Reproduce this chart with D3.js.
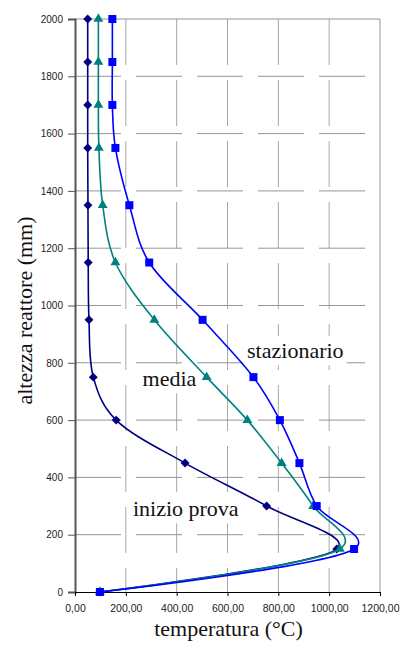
<!DOCTYPE html>
<html><head><meta charset="utf-8">
<script src="https://cdn.jsdelivr.net/npm/d3@7"></script>
<style>html,body{margin:0;padding:0;background:#fff;}svg{display:block;}
.serif{font-family:"Liberation Serif","Tinos","Times New Roman","Times","Noto Serif","DejaVu Serif",serif;}
.sans{font-family:"Liberation Sans",Arial,sans-serif;}
</style>
</head><body>
<svg id="chart" width="402" height="646"></svg>
<script>
// ---- data ----
const heights = [0, 150, 300, 450, 600, 750, 950, 1150, 1350, 1550, 1700, 1850, 2000];
const inizioProva = [98, 1030, 754, 433, 162, 72, 55, 52, 51, 50, 50, 50, 50];
const media = [98, 1042, 937, 813, 678, 518, 312, 159, 109, 94, 92, 92, 92];
const stazionario = [98, 1098, 951, 883, 806, 702, 502, 292, 214, 159, 147, 147, 147];
const xTicks = [0, 200, 400, 600, 800, 1000, 1200];
const yTicks = [0, 200, 400, 600, 800, 1000, 1200, 1400, 1600, 1800, 2000];
const seriesNames = ["inizio prova", "media", "stazionario"];
const xTitle = "temperatura (°C)";
const yTitle = "altezza reattore (mm)";

// ---- layout ----
const W = 402, H = 646;
const m = {left: 75, right: 22, top: 19, bottom: 54};
const svg = d3.select("#chart");
const x = d3.scaleLinear().domain([0, 1200]).range([m.left, W - m.right]);
const y = d3.scaleLinear().domain([0, 2000]).range([H - m.bottom, m.top]);
const fmt = v => d3.format(".2f")(v).replace(".", ",");

// gridlines
const g = svg.append("g");
g.selectAll(".vg").data(xTicks.slice(1, -1)).join("line")
  .attr("x1", d => x(d)).attr("x2", d => x(d))
  .attr("y1", y(2000)).attr("y2", y(0))
  .attr("stroke", "#a8a8a8").attr("stroke-width", 1)
  .attr("stroke-dasharray", "46,15");
g.selectAll(".hg").data(yTicks.slice(1, -1)).join("line")
  .attr("x1", x(0)).attr("x2", x(1200))
  .attr("y1", d => y(d)).attr("y2", d => y(d))
  .attr("stroke", "#959595").attr("stroke-width", 1)
  .attr("stroke-dasharray", "46,15");
g.append("line").attr("x1", x(0)).attr("x2", x(1200)).attr("y1", y(2000)).attr("y2", y(2000))
  .attr("stroke", "#959595");
g.append("line").attr("x1", x(1200)).attr("x2", x(1200)).attr("y1", y(2000)).attr("y2", y(0))
  .attr("stroke", "#959595");

// axes
const yAxis = d3.axisLeft(y).tickValues(yTicks).tickSize(7).tickPadding(5).tickFormat(d3.format("d"));
const ya = svg.append("g").attr("transform", `translate(${m.left},0)`).call(yAxis);
ya.attr("font-family", null).attr("font-size", null);
ya.select(".domain").attr("stroke", "#555").attr("stroke-width", 2);
ya.selectAll(".tick line").attr("stroke", "#555");
ya.selectAll("text").attr("class", "sans").attr("font-size", 10).attr("fill", "#222");

const xAxis = d3.axisBottom(x).tickValues(xTicks).tickSize(4).tickPadding(9).tickFormat(fmt);
const xa = svg.append("g").attr("transform", `translate(0,${H - m.bottom})`).call(xAxis);
xa.attr("font-family", null).attr("font-size", null);
xa.select(".domain").attr("stroke", "#000").attr("stroke-width", 1);
xa.selectAll(".tick line").attr("stroke", "#000");
xa.selectAll("text").attr("class", "sans").attr("font-size", 10.5).attr("fill", "#222");

// titles
svg.append("text").attr("class", "serif").attr("x", (x(0) + x(1200)) / 2 + 1).attr("y", 636)
  .attr("text-anchor", "middle").attr("font-size", 22).attr("fill", "#111").text(xTitle);
svg.append("text").attr("class", "serif").attr("transform", `translate(32,${(y(0) + y(2000)) / 2 + 5}) rotate(-90)`)
  .attr("text-anchor", "middle").attr("font-size", 22).attr("fill", "#111").text(yTitle);

// annotation labels with white boxes
const labelPos = [[228, 264], [266, 718], [677, 816]];
seriesNames.forEach((name, i) => {
  const lg = svg.append("g");
  const t = lg.append("text").attr("class", "serif").attr("x", x(labelPos[i][0])).attr("y", y(labelPos[i][1]))
    .attr("font-size", 22).attr("fill", "#111").text(name);
  const b = t.node().getBBox();
  lg.insert("rect", "text").attr("x", b.x - 3).attr("y", b.y - 2).attr("width", b.width + 6).attr("height", b.height + 4).attr("fill", "#fff");
});

// series
const line = d3.line().x(d => x(d[0])).y(d => y(d[1])).curve(d3.curveCatmullRom.alpha(0.2));
const series = [
  {vals: inizioProva, color: "#000080", shape: d3.symbolSquare, size: 40, rot: 45},
  {vals: media, color: "#008080", shape: d3.symbolTriangle, size: 42, rot: 0},
  {vals: stazionario, color: "#0000FF", shape: d3.symbolSquare, size: 64, rot: 0}
];
series.forEach(s => {
  const pts = heights.map((h, i) => [s.vals[i], h]);
  svg.append("path").attr("d", line(pts)).attr("fill", "none")
    .attr("stroke", s.color).attr("stroke-width", 1.6);
  svg.append("g").selectAll("path").data(pts).join("path")
    .attr("transform", d => `translate(${x(d[0])},${y(d[1])}) rotate(${s.rot})`)
    .attr("d", d3.symbol().type(s.shape).size(s.size)).attr("fill", s.color);
});
</script>
</body></html>
